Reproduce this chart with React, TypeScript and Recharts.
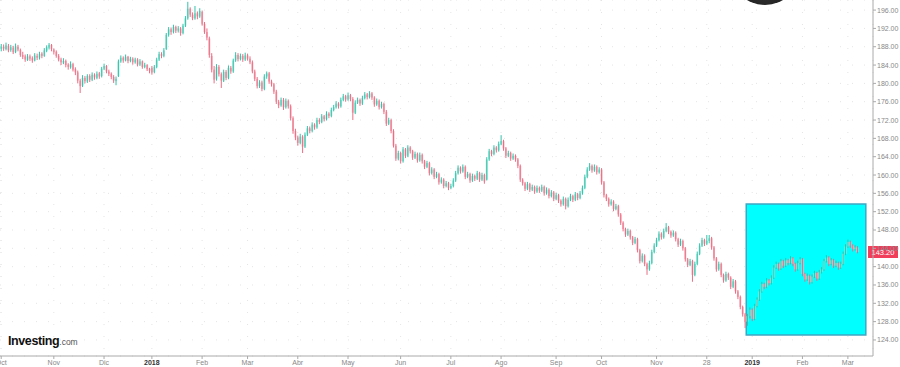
import { ComposedChart, Bar, XAxis, YAxis, CartesianGrid, ReferenceArea, ReferenceLine } from "recharts";

// daily bars as [open, high, low, close]
type Ohlc = [number, number, number, number];

const oct17: Ohlc[] = [
  [187.6, 188.6, 187.0, 188.0], [188.0, 188.5, 187.1, 187.6], [187.5, 188.9, 187.2, 188.3], [188.2, 188.6, 186.8, 187.2],
  [187.3, 188.4, 186.9, 187.9], [187.8, 188.2, 186.4, 186.8], [186.9, 188.7, 186.6, 188.1], [188.0, 188.4, 187.0, 187.4],
  [187.3, 187.6, 185.8, 186.2], [186.2, 186.9, 185.3, 185.8], [185.9, 186.3, 184.7, 185.2], [185.1, 186.4, 184.9, 185.9],
  [185.9, 186.3, 184.9, 185.4], [185.5, 185.9, 184.5, 185.0], [185.0, 186.6, 184.8, 186.1], [186.0, 186.5, 185.1, 185.6],
  [185.6, 186.9, 185.2, 186.4], [186.5, 186.8, 185.5, 186.0], [186.0, 187.7, 185.8, 187.2], [187.1, 188.3, 186.8, 187.9],
  [187.8, 188.8, 187.4, 188.4], [188.4, 188.6, 187.0, 187.5],
];
const nov17: Ohlc[] = [
  [187.4, 187.6, 186.3, 186.8], [186.9, 187.2, 185.6, 186.0], [186.0, 186.4, 184.8, 185.2], [185.2, 185.6, 184.0, 184.6],
  [184.5, 185.5, 184.2, 184.9], [184.9, 185.2, 183.5, 184.0], [184.1, 184.4, 183.0, 183.6], [183.5, 184.8, 183.2, 184.2],
  [184.2, 184.5, 182.6, 183.0], [183.1, 183.5, 181.8, 182.4], [182.4, 182.8, 180.0, 180.6], [180.6, 181.0, 177.9, 179.4],
  [179.5, 181.8, 179.2, 181.2], [181.2, 181.6, 180.0, 180.5], [180.4, 182.0, 180.1, 181.6], [181.6, 182.0, 180.3, 180.8],
  [180.8, 182.4, 180.5, 181.9], [181.9, 182.2, 180.8, 181.3], [181.2, 182.6, 180.9, 182.1], [182.2, 182.5, 181.0, 181.5],
  [181.6, 183.6, 181.3, 183.2],
];
const dec17: Ohlc[] = [
  [183.2, 184.3, 182.9, 183.8], [183.8, 184.0, 182.2, 182.6], [182.6, 183.0, 181.6, 182.1], [182.1, 182.4, 180.9, 181.4],
  [181.4, 181.8, 180.1, 180.6], [180.5, 181.5, 179.6, 181.0], [181.6, 185.2, 181.4, 184.8], [184.8, 186.1, 184.5, 185.6],
  [185.6, 185.9, 184.5, 185.0], [185.0, 186.3, 184.8, 185.8], [185.8, 186.0, 184.4, 184.9], [184.9, 185.8, 184.6, 185.4],
  [185.4, 185.7, 184.1, 184.6], [184.6, 185.6, 184.3, 185.2], [185.2, 185.5, 183.7, 184.1], [184.1, 185.3, 183.8, 184.8],
  [184.8, 185.0, 183.2, 183.6], [183.6, 184.5, 183.3, 184.0], [184.0, 184.2, 182.7, 183.1], [183.1, 183.4, 182.2, 182.8],
];
const jan18: Ohlc[] = [
  [183.4, 183.8, 181.9, 182.4], [182.5, 184.0, 182.2, 183.6], [183.6, 185.6, 183.3, 185.2], [185.2, 186.9, 184.9, 186.4],
  [186.4, 186.8, 185.5, 186.0], [186.0, 187.7, 185.7, 187.2], [187.5, 191.0, 187.3, 190.6], [190.6, 192.3, 190.2, 191.8],
  [191.8, 192.2, 190.6, 191.2], [191.2, 192.8, 190.9, 192.3], [192.3, 192.6, 191.0, 191.5], [191.5, 192.5, 191.1, 192.0],
  [192.0, 192.3, 190.4, 191.0], [191.0, 193.0, 190.7, 192.6], [192.6, 194.7, 192.3, 194.2], [194.2, 197.8, 193.9, 196.3],
  [196.3, 196.6, 194.5, 195.0], [195.0, 195.5, 193.8, 194.2], [194.2, 196.9, 193.9, 195.3], [195.3, 195.7, 194.0, 194.6],
  [194.6, 196.4, 194.3, 195.8],
];
const feb18: Ohlc[] = [
  [195.6, 195.9, 192.6, 193.0], [193.0, 193.4, 190.8, 191.2], [191.2, 192.0, 189.4, 190.0], [189.8, 190.2, 185.6, 186.2],
  [186.0, 186.6, 182.4, 183.0], [183.0, 183.8, 180.0, 180.8], [181.0, 184.2, 180.6, 183.6], [183.6, 184.0, 181.5, 182.0],
  [182.0, 182.4, 179.0, 180.6], [180.6, 183.0, 180.3, 182.5], [182.5, 182.9, 180.7, 181.2], [181.2, 183.9, 180.9, 183.4],
  [183.4, 183.8, 182.1, 182.6], [182.6, 185.4, 182.3, 185.0], [185.0, 186.8, 184.7, 186.2], [186.2, 186.6, 184.8, 185.3],
  [185.3, 186.5, 185.0, 186.0], [186.0, 186.4, 184.7, 185.2], [185.2, 186.7, 184.9, 186.1],
];
const mar18: Ohlc[] = [
  [186.1, 186.5, 185.0, 185.4], [185.4, 185.9, 184.2, 184.6], [184.6, 185.0, 182.2, 182.6], [182.6, 183.0, 180.5, 181.0],
  [181.0, 181.4, 178.9, 179.4], [179.4, 180.7, 179.0, 180.2], [180.2, 180.6, 178.3, 178.8], [178.8, 182.0, 178.5, 181.5],
  [181.5, 182.6, 181.0, 182.2], [182.2, 182.5, 179.9, 180.4], [180.4, 180.8, 179.3, 179.8], [179.8, 180.1, 177.7, 178.2],
  [178.2, 178.6, 175.5, 176.0], [176.0, 176.4, 174.6, 175.2], [175.2, 176.9, 174.9, 176.4], [176.4, 176.8, 174.2, 174.8],
  [174.8, 176.7, 174.5, 176.2], [176.2, 176.5, 174.5, 175.0], [175.0, 175.4, 171.9, 172.4], [172.4, 172.8, 169.0, 169.6],
  [169.6, 170.1, 167.6, 168.2],
];
const apr18: Ohlc[] = [
  [168.2, 168.6, 166.4, 167.0], [167.0, 169.0, 166.7, 168.4], [168.4, 168.7, 164.8, 166.2], [166.2, 169.3, 165.9, 168.8],
  [168.8, 170.7, 168.5, 170.2], [170.2, 170.6, 169.1, 169.6], [169.6, 171.5, 169.3, 171.0], [171.0, 171.3, 169.9, 170.4],
  [170.4, 172.5, 170.1, 172.0], [172.0, 172.4, 171.1, 171.6], [171.6, 173.3, 171.3, 172.8], [172.8, 173.1, 171.7, 172.2],
  [172.2, 173.9, 171.9, 173.4], [173.4, 173.7, 172.4, 172.9], [172.9, 174.7, 172.6, 174.2], [174.2, 175.3, 173.9, 174.8],
  [174.8, 176.1, 174.5, 175.6], [175.6, 175.9, 174.5, 175.0], [175.0, 176.9, 174.7, 176.4], [176.4, 177.7, 176.1, 177.2],
  [177.2, 177.5, 176.0, 176.5],
];
const may18: Ohlc[] = [
  [176.5, 178.0, 176.2, 177.4], [177.4, 177.7, 176.1, 176.6], [176.6, 177.0, 172.0, 173.6], [173.6, 176.3, 173.3, 175.8],
  [175.8, 176.9, 175.5, 176.4], [176.4, 176.7, 175.1, 175.6], [175.6, 177.3, 175.3, 176.8], [176.8, 178.1, 176.5, 177.6],
  [177.6, 177.9, 176.5, 177.0], [177.0, 178.3, 176.7, 177.8], [177.8, 178.1, 176.4, 176.9], [176.9, 177.2, 174.9, 175.4],
  [175.4, 176.7, 175.1, 176.2], [176.2, 176.5, 174.3, 174.8], [174.8, 176.0, 174.5, 175.5], [175.5, 175.8, 173.3, 173.8],
  [173.8, 174.2, 170.7, 171.2], [171.2, 172.5, 170.9, 172.0], [172.0, 172.3, 169.1, 169.6], [169.6, 170.0, 166.0, 166.4],
  [166.4, 166.8, 163.1, 163.6], [163.6, 165.3, 163.2, 164.8],
];
const jun18: Ohlc[] = [
  [164.8, 165.1, 162.5, 163.0], [163.0, 166.1, 162.7, 165.6], [165.6, 165.9, 163.7, 164.2], [164.2, 166.5, 163.9, 166.0],
  [166.0, 166.3, 164.7, 165.2], [165.2, 165.5, 163.3, 163.8], [163.8, 165.1, 163.5, 164.6], [164.6, 164.9, 162.7, 163.2],
  [163.2, 164.9, 162.9, 164.4], [164.4, 164.7, 162.5, 163.0], [163.0, 163.3, 161.3, 161.8], [161.8, 163.1, 161.5, 162.6],
  [162.6, 162.9, 159.9, 160.4], [160.4, 161.7, 160.1, 161.2], [161.2, 161.5, 159.1, 159.6], [159.6, 160.7, 159.3, 160.2],
  [160.2, 160.5, 157.9, 158.4], [158.4, 159.5, 158.1, 159.0], [159.0, 159.3, 157.1, 157.6], [157.6, 158.7, 157.3, 158.2],
  [158.2, 158.5, 156.7, 157.2],
];
const jul18: Ohlc[] = [
  [157.2, 158.1, 156.9, 157.6], [157.6, 159.3, 157.3, 158.8], [158.8, 160.9, 158.5, 160.4], [160.4, 162.1, 160.1, 161.6],
  [161.6, 161.9, 160.3, 160.8], [160.8, 162.3, 160.5, 161.8], [161.8, 162.1, 159.1, 159.6], [159.6, 160.7, 159.3, 160.2],
  [160.2, 160.5, 158.3, 158.8], [158.8, 160.3, 158.5, 159.8], [159.8, 160.1, 158.7, 159.2], [159.2, 160.9, 158.9, 160.4],
  [160.4, 160.7, 158.5, 159.0], [159.0, 160.5, 158.7, 160.0], [160.0, 160.3, 158.1, 158.6], [159.0, 163.9, 158.8, 163.4],
  [163.4, 165.7, 163.1, 165.2], [165.2, 165.5, 164.1, 164.6], [164.6, 166.5, 164.3, 166.0], [166.0, 166.3, 164.9, 165.4],
  [165.4, 167.3, 165.1, 166.8],
];
const aug18: Ohlc[] = [
  [166.8, 168.7, 166.5, 167.4], [167.4, 167.7, 165.3, 165.8], [165.8, 166.1, 163.7, 164.2], [164.2, 165.3, 163.9, 164.8],
  [164.8, 165.1, 163.1, 163.6], [163.6, 164.7, 163.3, 164.2], [164.2, 164.5, 162.9, 163.4], [163.4, 163.7, 161.5, 162.0],
  [162.0, 162.3, 158.5, 159.0], [159.0, 159.3, 157.7, 158.2], [158.2, 158.5, 156.5, 157.0], [157.0, 158.5, 156.7, 158.0],
  [158.0, 158.3, 156.3, 156.8], [156.8, 157.9, 156.5, 157.4], [157.4, 157.7, 155.9, 156.4], [156.4, 157.7, 156.1, 157.2],
  [157.2, 157.5, 156.1, 156.6], [156.6, 157.9, 156.3, 157.4], [157.4, 157.7, 155.5, 156.0], [156.0, 157.3, 155.7, 156.8],
  [156.8, 157.1, 154.9, 155.4], [155.4, 156.7, 155.1, 156.2], [156.2, 156.5, 154.3, 154.8],
];
const sep18: Ohlc[] = [
  [154.8, 156.1, 154.5, 155.6], [155.6, 155.9, 153.9, 154.4], [154.4, 154.7, 153.1, 153.6], [153.6, 155.3, 153.3, 154.8],
  [154.8, 155.1, 152.5, 153.2], [153.2, 155.1, 152.9, 154.6], [154.6, 155.9, 154.3, 155.4], [155.4, 155.7, 154.1, 154.6],
  [154.6, 156.3, 154.3, 155.8], [155.8, 156.1, 154.5, 155.0], [155.0, 156.5, 154.7, 156.0], [156.0, 157.7, 155.7, 157.2],
  [157.2, 160.1, 156.9, 159.6], [159.6, 161.7, 159.3, 161.2], [161.2, 162.6, 160.9, 162.0], [162.0, 162.3, 160.5, 161.0],
  [161.0, 162.3, 160.7, 161.8], [161.8, 162.1, 160.1, 160.6], [160.6, 161.7, 160.3, 161.2],
];
const oct18: Ohlc[] = [
  [161.2, 161.5, 157.9, 158.4], [158.4, 158.7, 155.1, 155.6], [155.6, 155.9, 154.3, 154.8], [154.8, 155.1, 153.1, 153.6],
  [153.6, 154.7, 153.3, 154.2], [154.2, 154.5, 152.1, 152.6], [152.6, 153.7, 152.3, 153.2], [153.2, 153.5, 150.9, 151.4],
  [151.4, 151.7, 149.1, 149.6], [149.6, 149.9, 147.7, 148.2], [148.2, 148.5, 146.5, 147.0], [147.0, 148.3, 146.7, 147.8],
  [147.8, 148.1, 145.9, 146.4], [146.4, 146.7, 144.7, 145.2], [145.2, 146.5, 144.9, 146.0], [146.0, 146.3, 143.1, 143.6],
  [143.6, 143.9, 140.7, 141.2], [141.2, 142.9, 140.9, 142.4], [142.4, 142.7, 140.1, 140.6], [140.6, 140.9, 138.2, 139.4],
  [139.4, 141.3, 139.1, 140.8], [140.8, 143.7, 140.5, 143.2], [143.2, 145.1, 142.9, 144.6],
];
const nov18: Ohlc[] = [
  [144.6, 146.3, 144.3, 145.8], [145.8, 147.7, 145.5, 147.2], [147.2, 147.5, 145.9, 146.4], [146.4, 148.3, 146.1, 147.8],
  [147.8, 149.5, 147.5, 148.6], [148.6, 148.9, 147.1, 147.6], [147.6, 147.9, 146.3, 146.8], [146.8, 147.9, 146.5, 147.4],
  [147.4, 147.7, 145.5, 146.0], [146.0, 146.3, 144.3, 144.8], [144.8, 146.1, 144.5, 145.6], [145.6, 145.9, 143.5, 144.0],
  [144.0, 144.3, 141.1, 141.6], [141.6, 141.9, 139.9, 140.4], [140.4, 141.7, 140.1, 141.2], [141.2, 141.5, 136.7, 138.2],
  [138.2, 141.1, 137.9, 140.6], [140.6, 143.3, 140.3, 142.8], [142.8, 145.1, 142.5, 144.6], [144.6, 146.3, 144.3, 145.8],
  [145.8, 146.1, 144.5, 145.0],
];
const dec18: Ohlc[] = [
  [145.0, 146.9, 144.7, 145.6], [145.6, 146.9, 145.1, 146.2], [146.2, 146.5, 143.7, 144.2], [144.2, 144.5, 141.3, 141.8],
  [141.8, 142.1, 138.9, 139.4], [139.4, 141.1, 139.1, 140.6], [140.6, 140.9, 137.7, 138.2], [138.2, 138.5, 136.5, 137.0],
  [137.0, 138.9, 136.7, 138.4], [138.4, 138.7, 137.1, 137.6], [137.6, 137.9, 135.1, 135.6], [135.6, 137.3, 135.3, 136.8],
  [136.8, 137.1, 134.1, 134.6], [134.6, 134.9, 132.9, 133.4], [133.4, 133.7, 130.7, 131.2], [131.2, 131.5, 129.1, 129.6],
  [129.6, 129.9, 126.6, 128.0], [128.0, 129.7, 127.1, 129.2], [129.2, 131.1, 128.7, 130.6],
];
const jan19: Ohlc[] = [
  [130.6, 130.9, 128.1, 128.6], [128.6, 131.9, 128.3, 131.4], [131.4, 133.3, 131.1, 132.8], [132.8, 135.1, 132.5, 134.6],
  [134.6, 136.7, 134.3, 136.2], [136.2, 136.5, 135.1, 135.6], [135.6, 137.5, 135.3, 137.0], [137.0, 137.3, 135.9, 136.4],
  [136.4, 138.1, 136.1, 137.6], [137.6, 140.3, 137.3, 139.8], [139.8, 141.1, 139.5, 140.6], [140.6, 140.9, 139.1, 139.6],
  [139.6, 141.7, 139.3, 141.2], [141.2, 141.5, 139.7, 140.2], [140.2, 141.9, 139.9, 141.4], [141.4, 141.7, 140.3, 140.8],
  [140.8, 142.3, 140.5, 141.8], [141.8, 142.1, 140.1, 140.6], [140.6, 140.9, 138.9, 139.4], [139.4, 141.3, 139.1, 140.8],
  [140.8, 142.1, 140.5, 141.6],
];
const feb19: Ohlc[] = [
  [141.6, 141.9, 137.9, 138.4], [138.4, 138.7, 136.7, 137.2], [137.2, 138.5, 136.9, 138.0], [138.0, 138.3, 136.1, 136.6],
  [136.6, 138.3, 136.3, 137.8], [137.8, 139.1, 137.5, 138.6], [138.6, 138.9, 136.9, 137.4], [137.4, 139.3, 137.1, 138.8],
  [138.8, 139.9, 138.5, 139.4], [139.4, 141.7, 139.1, 141.2], [141.2, 142.5, 140.9, 142.0], [142.0, 142.3, 140.1, 140.6],
  [140.6, 141.9, 140.3, 141.4], [141.4, 141.7, 139.7, 140.2], [140.2, 141.3, 139.9, 140.8], [140.8, 141.1, 139.3, 139.8],
  [139.8, 141.1, 139.5, 140.6], [140.6, 143.3, 140.3, 142.8], [142.8, 144.9, 142.5, 144.4],
];
const mar19: Ohlc[] = [
  [144.4, 145.9, 144.1, 145.4], [145.4, 145.7, 144.1, 144.6], [144.6, 144.9, 143.3, 143.8], [143.8, 144.7, 143.5, 144.2],
  [144.2, 144.5, 142.9, 143.2],
];

const months = [oct17, nov17, dec17, jan18, feb18, mar18, apr18, may18, jun18, jul18, aug18, sep18, oct18, nov18, dec18, jan19, feb19, mar19];
const monthLabels = ["Oct", "Nov", "Dic", "2018", "Feb", "Mar", "Abr", "May", "Jun", "Jul", "Ago", "Sep", "Oct", "Nov", "28", "2019", "Feb", "Mar"];
const yTicks = [124, 128, 132, 136, 140, 144, 148, 152, 156, 160, 164, 168, 172, 176, 180, 184, 188, 192, 196];
const lastPrice = 143.2;
// highlighted rectangle (bar index range and price range)
const boxFrom = 312;
const boxTo = 361;
const boxLow = 125.1;
const boxHigh = 153.7;
const EMPTY_SLOTS = 6;

const rows: any[] = [];
const tickIdx: number[] = [];
const tickText: Record<number, string> = {};
months.forEach((m, mi) => {
  tickIdx.push(rows.length);
  tickText[rows.length] = monthLabels[mi];
  m.forEach(([o, h, l, c]) => rows.push({ i: rows.length, open: o, high: h, low: l, close: c, range: [l, h] }));
});
for (let k = 0; k < EMPTY_SLOTS; k++) rows.push({ i: rows.length, range: null });

const OhlcShape = (props: any) => {
  const { x, y, width, height, payload } = props;
  if (!payload || payload.high == null || isNaN(y)) return null;
  const top = Math.min(y, y + height);
  const h = Math.abs(height);
  const span = payload.high - payload.low || 1;
  const py = (p: number) => top + ((payload.high - p) / span) * h;
  const cx = x + width / 2;
  const up = payload.close >= payload.open;
  const yo = py(payload.open);
  const yc = py(payload.close);
  return (
    <g>
      <rect x={cx - 1} y={Math.min(yo, yc)} width={2} height={Math.max(Math.abs(yc - yo), 1)} fill={up ? "#a6e8dd" : "#f7bac3"} />
      <line x1={cx} x2={cx} y1={top} y2={top + h} stroke={up ? "#33c2aa" : "#ea6e84"} strokeWidth={1} />
    </g>
  );
};

const MonthTick = ({ x, y, payload }: any) => {
  const label = tickText[payload.value] ?? "";
  const bold = label.length === 4;
  return (
    <text x={x} y={y + 4} textAnchor="middle" fontSize={7} fontFamily="Arial" fontWeight={bold ? 700 : 400} fill={bold ? "#333" : "#888"}>
      {label}
    </text>
  );
};

const PriceTag = ({ viewBox }: any) => {
  const right = viewBox.x + viewBox.width;
  return (
    <g>
      <rect x={right - 5} y={viewBox.y - 6} width={30} height={12} fill="#f03e5b" />
      <text x={right + 10} y={viewBox.y + 3} textAnchor="middle" fontSize={7.5} fontFamily="Arial" fill="#fff">
        {lastPrice.toFixed(2)}
      </text>
    </g>
  );
};

export default function App() {
  return (
    <div style={{ position: "absolute", left: 0, top: 0, width: 900, height: 367, background: "#fff", overflow: "hidden" }}>
      <ComposedChart width={900} height={367} data={rows} margin={{ top: 0, right: 0, bottom: 0, left: 0 }}>
        <CartesianGrid stroke="#e4e4e4" strokeDasharray="1 11" />
        <ReferenceArea x1={boxFrom} x2={boxTo} y1={boxLow} y2={boxHigh} fill="#00ffff" fillOpacity={1} stroke="#3ea7c4" strokeWidth={1.5} ifOverflow="visible" />
        <XAxis dataKey="i" type="category" ticks={tickIdx} interval={0} height={11} tickSize={3} stroke="#aaa" tick={<MonthTick />} />
        <YAxis
          orientation="right"
          width={27}
          type="number"
          domain={[120.5, 198.2]}
          allowDataOverflow
          ticks={yTicks}
          interval={0}
          tickSize={3}
          tickMargin={1}
          stroke="#aaa"
          tick={{ fontSize: 7, fill: "#888", fontFamily: "Arial" }}
          tickFormatter={(v: number) => v.toFixed(2)}
        />
        <Bar dataKey="range" shape={<OhlcShape />} isAnimationActive={false} />
        <ReferenceLine y={lastPrice} stroke="none" ifOverflow="visible" label={<PriceTag />} />
      </ComposedChart>
      <div
        style={{
          position: "absolute",
          left: 730,
          top: -65,
          width: 70,
          height: 70,
          borderRadius: "50%",
          background: "radial-gradient(circle at 50% 80%, #333 0%, #111 60%)",
        }}
      />
      <div style={{ position: "absolute", left: 8, top: 333, fontFamily: "Arial", color: "#111", lineHeight: "14px", whiteSpace: "nowrap" }}>
        <span style={{ fontSize: 12.5, fontWeight: 700, letterSpacing: -0.4 }}>Investing</span>
        <span style={{ fontSize: 8.5, color: "#555" }}>.com</span>
      </div>
    </div>
  );
}
